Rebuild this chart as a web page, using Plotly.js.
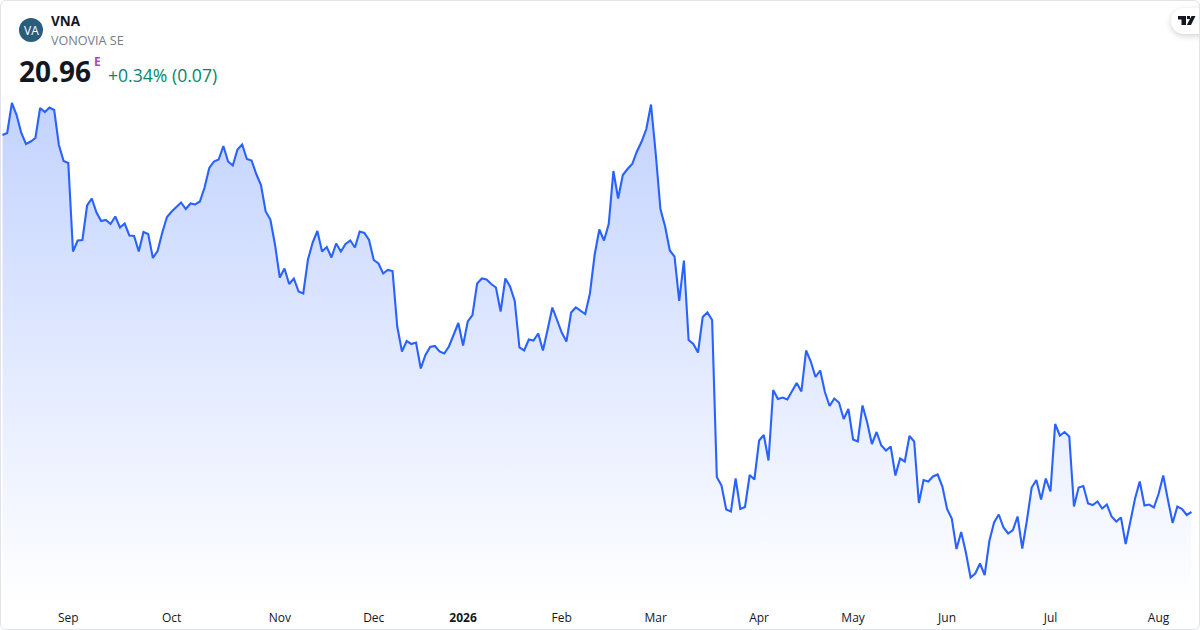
<!DOCTYPE html>
<html>
<head>
<meta charset="utf-8">
<script src="https://cdn.plot.ly/plotly-3.0.1.min.js"></script>
<style>
html,body{margin:0;padding:0;background:#fff;width:1200px;height:630px;overflow:hidden}
#card{position:absolute;left:0;top:0;width:1198px;height:628px;border:1px solid #e0e3eb;border-radius:6px;overflow:hidden;background:#fff}
#pill{position:absolute;left:1170px;top:7px;width:60px;height:26px;border-radius:13px;background:#fff;box-shadow:0 2px 6px rgba(0,0,0,.18)}
#chart{position:absolute;left:0;top:0;width:1200px;height:630px}
</style>
</head>
<body>
<div id="card"><div id="pill"></div></div>
<div id="chart"></div>
<script>
const symbol = "VNA";
const companyName = "VONOVIA SE";
const lastPrice = "20.96";
const changeText = "+0.34% (0.07)";
const tickIndex = [14, 36, 59, 79, 98, 119, 139, 161, 181, 201, 223, 246];
const tickLabels = ["Sep", "Oct", "Nov", "Dec", "<b>2026</b>", "Feb", "Mar", "Apr", "May", "Jun", "Jul", "Aug"];
const prices = [
28.50,28.54,29.14,28.90,28.54,28.32,28.37,28.44,29.04,28.96,29.05,29.00,28.30,27.98,27.94,
26.17,26.39,26.40,27.09,27.23,26.95,26.78,26.80,26.72,26.87,26.65,26.73,26.49,26.48,26.17,
26.56,26.52,26.04,26.18,26.55,26.86,26.97,27.07,27.15,27.02,27.13,27.11,27.17,27.45,27.84,
27.97,28.01,28.28,27.97,27.89,28.21,28.31,28.02,27.99,27.72,27.50,26.97,26.81,26.30,25.65,
25.83,25.52,25.63,25.37,25.33,26.01,26.35,26.58,26.17,26.26,26.05,26.33,26.17,26.32,26.39,
26.25,26.57,26.54,26.40,26.00,25.93,25.73,25.80,25.78,24.67,24.17,24.38,24.32,24.35,23.83,
24.10,24.26,24.28,24.17,24.13,24.27,24.51,24.74,24.29,24.77,24.90,25.53,25.63,25.61,25.52,
25.45,24.97,25.63,25.47,25.18,24.25,24.19,24.41,24.39,24.53,24.19,24.61,25.05,24.80,24.55,
24.37,24.95,25.05,24.99,24.92,25.33,26.10,26.61,26.39,26.72,27.78,27.23,27.70,27.82,27.92,
28.17,28.37,28.62,29.11,28.13,27.02,26.67,26.19,26.07,25.18,25.99,24.40,24.32,24.15,24.86,
24.95,24.80,21.66,21.49,21.01,20.97,21.63,21.02,21.06,21.70,21.61,22.39,22.50,21.99,23.40,
23.22,23.25,23.21,23.39,23.54,23.37,24.19,23.97,23.66,23.79,23.36,23.08,23.23,23.15,22.82,
23.02,22.41,22.37,23.09,22.75,22.32,22.56,22.29,22.19,22.27,21.69,22.03,21.97,22.48,22.37,
21.14,21.60,21.57,21.67,21.71,21.47,21.02,20.83,20.22,20.56,20.15,19.65,19.73,19.93,19.70,
20.38,20.75,20.91,20.65,20.53,20.60,20.87,20.23,20.80,21.45,21.60,21.21,21.63,21.37,22.72,
22.49,22.56,22.47,21.07,21.45,21.48,21.13,21.10,21.17,21.03,21.11,20.87,20.77,20.85,20.32,
20.77,21.23,21.57,21.09,21.11,21.05,21.32,21.69,21.20,20.74,21.07,21.02,20.90,20.96
];
const sessionIndex = prices.map((_, i) => i);

const W = 1200, H = 630, plotH = 604;
const FONT = "'Open Sans', 'Noto Sans', sans-serif";
const px = x => x / W;
const py = y => (plotH - y) / plotH;
const label = (x, y, text, size, color, extra) => Object.assign({
  xref: "paper", yref: "paper", x: px(x), y: py(y), text, showarrow: false,
  xanchor: "left", yanchor: "middle", borderpad: 0,
  font: {family: FONT, size, color}
}, extra || {});
const poly = pts => "M" + pts.map(p => px(p[0]) + "," + py(p[1])).join("L") + "Z";
const fillShape = (path, color) => ({type: "path", xref: "paper", yref: "paper", path, fillcolor: color, line: {width: 0}, layer: "above"});

Plotly.newPlot("chart", [{
  x: sessionIndex, y: prices, type: "scatter", mode: "lines",
  line: {color: "#2962FF", width: 2.1, shape: "linear"},
  fill: "tozeroy",
  fillgradient: {
    type: "vertical", start: 29.14, stop: 19.12,
    colorscale: [[0, "rgba(41,98,255,0.28)"], [1, "rgba(41,98,255,0)"]]
  },
  hoverinfo: "skip"
}], {
  width: W, height: H,
  margin: {l: 0, r: 0, t: 0, b: H - plotH, pad: 0},
  paper_bgcolor: "rgba(0,0,0,0)", plot_bgcolor: "rgba(0,0,0,0)",
  showlegend: false,
  xaxis: {
    range: [-0.532, 254.82], tickmode: "array", tickvals: tickIndex, ticktext: tickLabels,
    showgrid: false, zeroline: false, showline: false, ticks: "", fixedrange: true,
    ticklabelstandoff: 5,
    tickfont: {family: FONT, size: 12, color: "#131722"}
  },
  yaxis: {range: [19.12, 31.2], visible: false, fixedrange: true},
  shapes: [
    {type: "circle", xref: "paper", yref: "paper", x0: px(19), x1: px(43), y0: py(42), y1: py(18), fillcolor: "#2a5d7a", line: {width: 0}, layer: "above"},
    fillShape(poly([[1178,16],[1186,16],[1186,25],[1181.5,25],[1181.5,19.5],[1178,19.5]]), "#131722"),
    fillShape(poly([[1187,16],[1190,16],[1190,19],[1187,19]]), "#131722"),
    fillShape(poly([[1191.5,16],[1195.5,16],[1191,25],[1186.8,25]]), "#131722")
  ],
  annotations: [
    label(31, 30.5, "VA", 12, "#ffffff", {xanchor: "center"}),
    label(49.5, 21, "<b>" + symbol + "</b>", 13.5, "#131722"),
    label(49.8, 41, companyName, 12.6, "#787b86"),
    label(18, 71, "<b>" + lastPrice + "</b>", 28, "#131722"),
    label(92.5, 61, "<b>E</b>", 12, "#ab47bc"),
    label(106.5, 74.5, changeText, 17.6, "#08856c")
  ]
}, {staticPlot: true, displayModeBar: false});
</script>
</body>
</html>
